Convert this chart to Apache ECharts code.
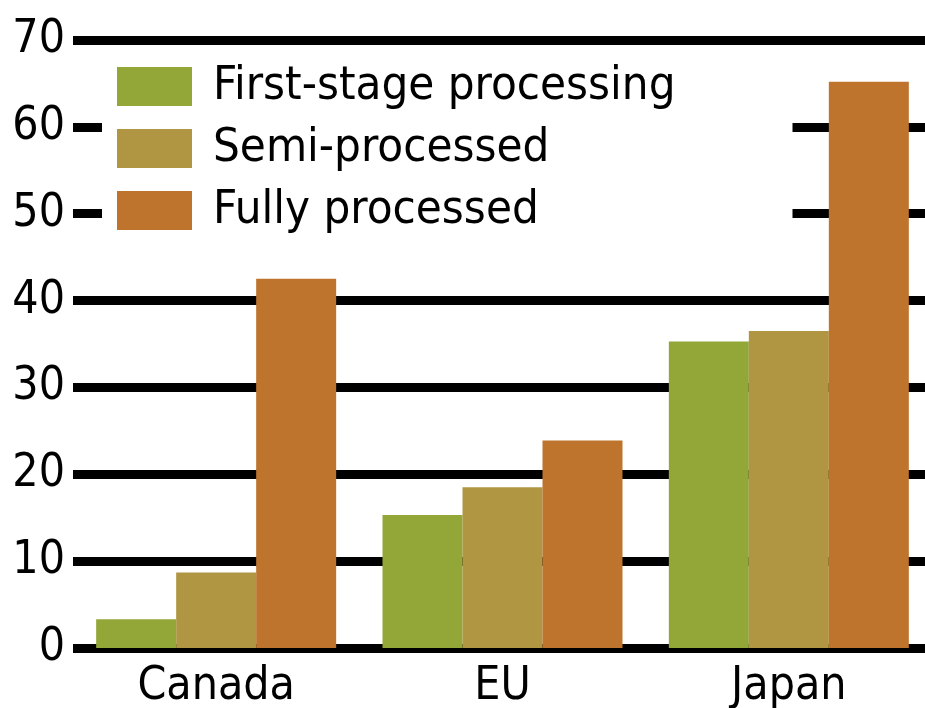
<!DOCTYPE html>
<html><head><meta charset="utf-8">
<script src="https://cdn.jsdelivr.net/npm/echarts@6/dist/echarts.min.js"></script>
<style>html,body{margin:0;padding:0;background:#fff}#c{width:925px;height:708px}</style>
</head><body><div id="c"></div>
<script>
const categories = ['Canada', 'EU', 'Japan'];
const firstStage = [3.3, 15.3, 35.3];
const semiProcessed = [8.7, 18.5, 36.5];
const fullyProcessed = [42.5, 23.9, 65.2];
const yTicks = [0, 10, 20, 30, 40, 50, 60, 70];
const seriesNames = ['First-stage processing', 'Semi-processed', 'Fully processed'];
const colors = ['#92A737', '#B09642', '#BE742D'];

const FONT = '"DejaVu Sans Condensed", "Liberation Sans Narrow", "Liberation Sans", sans-serif';
const chart = echarts.init(document.getElementById('c'));
const vals = [firstStage, semiProcessed, fullyProcessed];
chart.setOption({
  animation: false,
  backgroundColor: '#fff',
  grid: { left: 73, right: -7, top: 40, bottom: 60, containLabel: false, outerBoundsMode: 'none' },
  legend: {
    orient: 'vertical', left: 102, top: 53,
    padding: [10, 117, 10, 15],
    backgroundColor: '#fff',
    itemWidth: 75, itemHeight: 39, itemGap: 15,
    icon: 'rect',
    data: seriesNames,
    textStyle: { fontFamily: FONT, fontSize: 47, color: '#000', padding: [0, 0, 0, 16] }
  },
  xAxis: {
    type: 'category', data: categories,
    axisLine: { show: false }, axisTick: { show: false },
    axisLabel: { fontFamily: FONT, fontSize: 46, color: '#000', margin: 16 }
  },
  yAxis: {
    type: 'value', min: yTicks[0], max: yTicks[yTicks.length - 1], interval: 10,
    axisLine: { show: false }, axisTick: { show: false },
    axisLabel: { fontFamily: FONT, fontSize: 46, color: '#000', margin: 8 },
    splitLine: { lineStyle: { color: '#000', width: 9 } }
  },
  series: seriesNames.map((n, i) => ({
    name: n, type: 'bar', data: vals[i],
    barWidth: 80, barGap: '0%',
    itemStyle: { color: colors[i] }, z: 3
  }))
});
</script></body></html>
